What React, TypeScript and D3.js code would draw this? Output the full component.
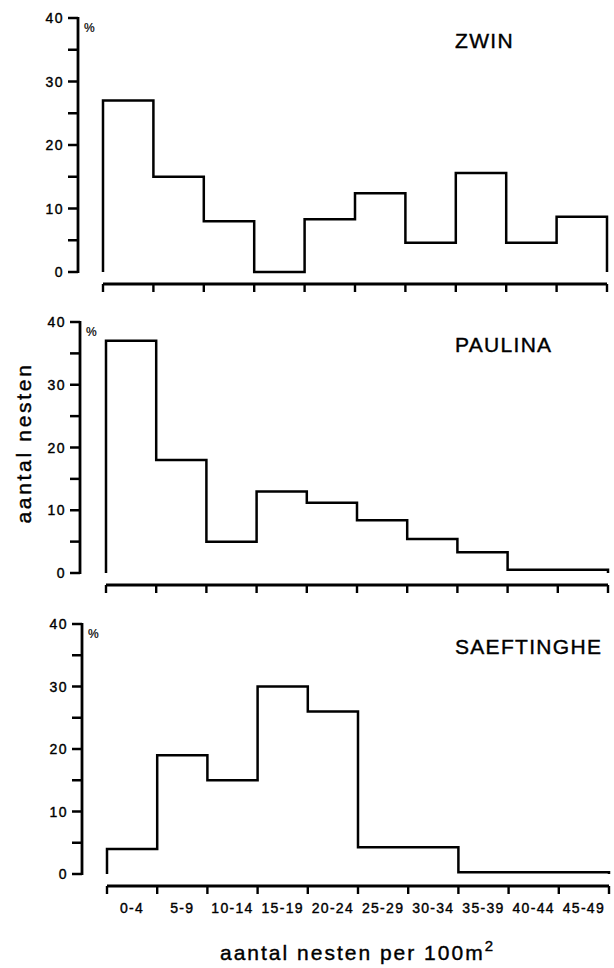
import { useEffect, useRef } from 'react';
import * as d3 from 'd3';

// nest density classes (nests per 100 m2)
const bins = ['0-4', '5-9', '10-14', '15-19', '20-24', '25-29', '30-34', '35-39', '40-44', '45-49'];

// % of nests per class
const zwin = [27, 15, 8, 0, 8.3, 12.4, 4.6, 15.6, 4.6, 8.7];
const paulina = [37, 18, 5, 13, 11.2, 8.4, 5.4, 3.3, 0.5, 0.5];
const saeftinghe = [4, 19, 15, 30, 26, 4.3, 4.3, 0.3, 0.3, 0.3];

const panelNames = ['ZWIN', 'PAULINA', 'SAEFTINGHE'];
const yTicks = [0, 5, 10, 15, 20, 25, 30, 35, 40];

const W = 614;
const H = 968;
const FONT = '"Liberation Sans", Arial, Helvetica, sans-serif';

// the scan is slightly skewed, so each panel gets its own frame
const frames = [
  { top: 18, bottom: 272, axisX: 78, x0: 103, x1: 607 },
  { top: 322, bottom: 573, axisX: 80, x0: 106, x1: 608 },
  { top: 624, bottom: 874, axisX: 82, x0: 107, x1: 609 },
];

const App = () => {
  const svgRef = useRef<SVGSVGElement>(null);

  useEffect(() => {
    const svg = d3.select(svgRef.current);
    svg.selectAll('*').remove();

    svg.append('rect').attr('width', W).attr('height', H).attr('fill', '#fff');

    const series = [zwin, paulina, saeftinghe];

    // scanned print: text looks a bit heavier than a plain regular weight
    const ink = (sel: any, w = 0.4) =>
      sel.attr('fill', '#000').attr('stroke', '#000').attr('stroke-width', w);

    series.forEach((values, p) => {
      const f = frames[p];
      const g = svg.append('g');

      const x = d3.scaleLinear().domain([0, bins.length]).range([f.x0, f.x1]);
      const y = d3.scaleLinear().domain([0, 40]).range([f.bottom, f.top]);

      // y axis: spine + ticks to the left
      g.append('line')
        .attr('x1', f.axisX).attr('x2', f.axisX)
        .attr('y1', y(0) + 1).attr('y2', y(40) - 1)
        .attr('stroke', '#000').attr('stroke-width', 2.8);

      g.selectAll('.ytick')
        .data(yTicks)
        .join('line')
        .attr('x1', f.axisX - 10).attr('x2', f.axisX)
        .attr('y1', d => y(d)).attr('y2', d => y(d))
        .attr('stroke', '#000').attr('stroke-width', 2.5);

      ink(g.selectAll('.ylab')
        .data(yTicks.filter(d => d % 10 === 0))
        .join('text')
        .attr('x', f.axisX - 14)
        .attr('y', d => y(d) + 5)
        .attr('text-anchor', 'end')
        .attr('font-family', FONT)
        .attr('font-size', 14)
        .attr('letter-spacing', 1.5)
        .text(d => d));

      ink(g.append('text')
        .attr('x', f.axisX + 6)
        .attr('y', y(40) + 14)
        .attr('font-family', FONT)
        .attr('font-size', 12)
        .text('%'), 0.2);

      // x axis below the histogram
      const axisY = y(0) + 12;
      g.append('line')
        .attr('x1', x(0)).attr('x2', x(bins.length))
        .attr('y1', axisY).attr('y2', axisY)
        .attr('stroke', '#000').attr('stroke-width', 2.8);

      g.selectAll('.xtick')
        .data(d3.range(bins.length + 1))
        .join('line')
        .attr('x1', d => x(d)).attr('x2', d => x(d))
        .attr('y1', axisY).attr('y2', axisY + 8)
        .attr('stroke', '#000').attr('stroke-width', 2.4);

      // histogram outline
      const pts: [number, number][] = [[0, 0]];
      values.forEach((v, i) => pts.push([i, v]));
      pts.push([bins.length, values[values.length - 1]]);
      pts.push([bins.length, 0]);

      const line = d3.line<[number, number]>()
        .x(d => x(d[0]))
        .y(d => y(d[1]))
        .curve(d3.curveStepAfter);

      g.append('path')
        .attr('d', line(pts))
        .attr('fill', 'none')
        .attr('stroke', '#000')
        .attr('stroke-width', 2.5)
        .attr('stroke-linejoin', 'miter');

      // panel name
      ink(g.append('text')
        .attr('x', 455)
        .attr('y', y(40) + 30)
        .attr('font-family', FONT)
        .attr('font-size', 21)
        .attr('letter-spacing', 1.3)
        .text(panelNames[p]));

      // class labels only under the last panel
      if (p === series.length - 1) {
        ink(g.selectAll('.xlab')
          .data(bins)
          .join('text')
          .attr('x', (_, i) => x(i + 0.5))
          .attr('y', y(0) + 39)
          .attr('text-anchor', 'middle')
          .attr('font-family', FONT)
          .attr('font-size', 14)
          .attr('letter-spacing', 1.3)
          .text(d => d));
      }
    });

    // axis titles
    ink(svg.append('text')
      .attr('transform', 'translate(31,443) rotate(-90)')
      .attr('text-anchor', 'middle')
      .attr('font-family', FONT)
      .attr('font-size', 21)
      .attr('letter-spacing', 2.7)
      .text('aantal nesten'));

    const xt = ink(svg.append('text')
      .attr('x', 220)
      .attr('y', 960)
      .attr('font-family', FONT)
      .attr('font-size', 21)
      .attr('letter-spacing', 2));
    xt.append('tspan').text('aantal nesten per 100m');
    xt.append('tspan').attr('dy', -9).attr('font-size', 15).text('2');
  }, []);

  return (
    <svg
      ref={svgRef}
      width={W}
      height={H}
      style={{ position: 'absolute', left: 0, top: 0 }}
    />
  );
};

export default App;
